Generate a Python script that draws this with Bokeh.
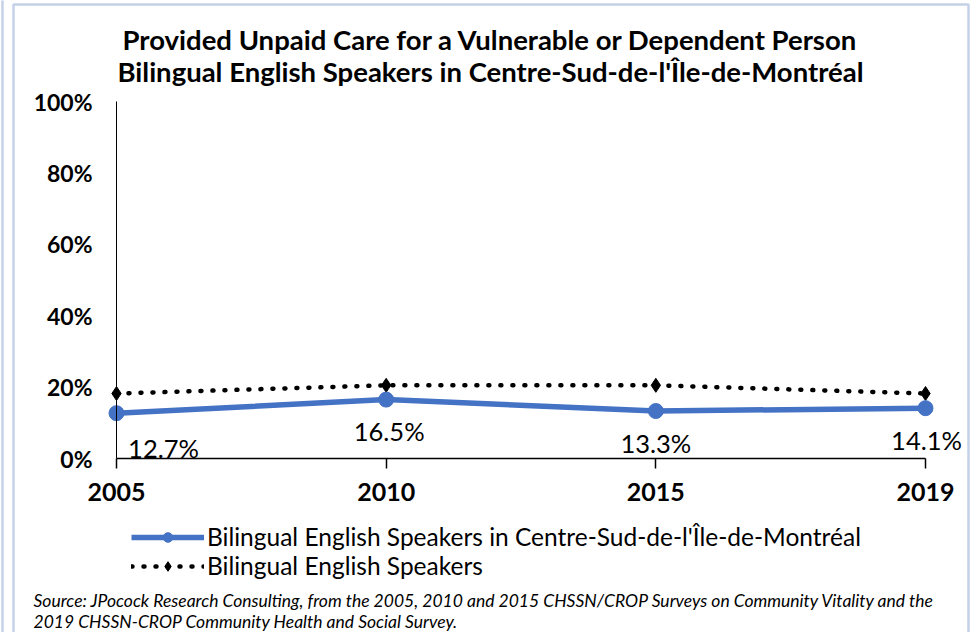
from bokeh.plotting import figure
from bokeh.models import (Range1d, Label, Legend, LegendItem, FixedTicker, LinearAxis,
                          BoxAnnotation)
from bokeh.embed import file_html
from bokeh.resources import INLINE

years = ["2005", "2010", "2015", "2019"]
montreal = [0.127, 0.165, 0.133, 0.141]
bilingual = [0.182, 0.205, 0.205, 0.182]
data_labels = ["12.7%", "16.5%", "13.3%", "14.1%"]
y_ticks = [0.0, 0.2, 0.4, 0.6, 0.8, 1.0]
y_tick_labels = ["0%", "20%", "40%", "60%", "80%", "100%"]
title_lines = ["Provided Unpaid Care for a Vulnerable or Dependent Person",
               "Bilingual English Speakers in Centre-Sud-de-l'Île-de-Montréal"]
series_names = ["Bilingual English Speakers in Centre-Sud-de-l'Île-de-Montréal",
                "Bilingual English Speakers"]
source_lines = ["Source: JPocock Research Consulting, from the 2005, 2010  and 2015  CHSSN/CROP Surveys on Community Vitality and the",
                "2019  CHSSN-CROP Community Health and Social Survey."]

xs = list(range(len(years)))
FONT = "Lato"
W, H = 972, 632
# plot-area pixel box inside the canvas
PL, PR, PT, PB = 116, 925, 101, 458
xpp = (PR - PL) / (len(xs) - 1)
ypp = (PB - PT) / 1.0
x_range = Range1d(-PL / xpp, (len(xs) - 1) + (W - PR) / xpp)
y_range = Range1d(-(H - PB) / ypp, 1.0 + PT / ypp)

p = figure(width=W, height=H, output_backend="svg", toolbar_location=None,
           x_range=x_range, y_range=y_range,
           x_axis_location=None, y_axis_location=None,
           min_border=0, min_border_left=0, min_border_right=0,
           min_border_top=0, min_border_bottom=0)
p.xgrid.visible = False
p.ygrid.visible = False
p.outline_line_color = None
p.background_fill_color = "white"
p.border_fill_color = "white"

# axes drawn at fixed data locations
xaxis = LinearAxis(fixed_location=0, bounds=(0, len(xs) - 1),
                   ticker=FixedTicker(ticks=xs),
                   major_label_overrides={i: y for i, y in enumerate(years)})
xaxis.minor_tick_line_color = None
xaxis.major_tick_out = 10
xaxis.major_tick_in = 0
xaxis.axis_line_color = "black"
xaxis.axis_line_width = 1.5
xaxis.major_tick_line_color = "black"
xaxis.major_tick_line_width = 1.5
xaxis.major_label_text_font = FONT
xaxis.major_label_text_font_style = "bold"
xaxis.major_label_text_font_size = "25px"
xaxis.major_label_text_color = "black"
xaxis.major_label_standoff = 14
p.add_layout(xaxis, "below")

yaxis = LinearAxis(fixed_location=0, bounds=(0, 1),
                   ticker=FixedTicker(ticks=y_ticks),
                   major_label_overrides={t: l for t, l in zip(y_ticks, y_tick_labels)})
yaxis.minor_tick_line_color = None
yaxis.major_tick_line_color = None
yaxis.major_tick_out = 0
yaxis.major_tick_in = 0
yaxis.axis_line_color = "black"
yaxis.axis_line_width = 1
yaxis.major_label_text_font = FONT
yaxis.major_label_text_font_style = "bold"
yaxis.major_label_text_font_size = "23px"
yaxis.major_label_text_color = "black"
yaxis.major_label_standoff = 24
p.add_layout(yaxis, "left")

# series
r_dot_line = p.line(xs, bilingual, line_color="black", line_width=4.5,
                    line_dash="1 11", line_cap="round")
r_dot_pts = p.scatter(xs, bilingual, marker="diamond", size=14, fill_color="black",
                      line_color="black")
r_blue_line = p.line(xs, montreal, line_color="#4472C4", line_width=5.5,
                     line_join="round")
r_blue_pts = p.scatter(xs, montreal, marker="circle", size=15, fill_color="#4472C4",
                       line_color="#4472C4")

# data labels
label_dx = [47, 3, 0, 1]
label_dy = [-35, -31, -32, -32]
for i, t in enumerate(data_labels):
    p.add_layout(Label(x=xs[i], y=montreal[i], text=t, x_offset=label_dx[i],
                       y_offset=label_dy[i], text_align="center", text_baseline="middle",
                       text_font=FONT, text_font_size="25.5px", text_color="black"))

# title (screen units: from canvas bottom-left, y upward)
for t, cy in zip(title_lines, [39, 71]):
    p.add_layout(Label(x=490, y=H - cy, x_units="screen", y_units="screen", text=t,
                       text_align="center", text_baseline="middle",
                       text_font=FONT, text_font_style="bold",
                       text_font_size="27.5px", text_color="black"))

# source
for t, cy in zip(source_lines, [600, 621]):
    p.add_layout(Label(x=33, y=H - cy, x_units="screen", y_units="screen", text=t,
                       text_align="left", text_baseline="middle",
                       text_font=FONT, text_font_style="italic",
                       text_font_size="17.5px", text_color="black"))

# legend
legend = Legend(items=[LegendItem(label=series_names[0], renderers=[r_blue_line, r_blue_pts]),
                       LegendItem(label=series_names[1], renderers=[r_dot_line, r_dot_pts])],
                location=(131, H - 580), orientation="vertical",
                label_text_font=FONT, label_text_font_size="24.5px",
                label_text_color="black",
                glyph_width=73, glyph_height=24, label_standoff=3, spacing=0,
                padding=0, margin=0, border_line_color=None, background_fill_alpha=0)
p.add_layout(legend, "center")

# outer frames
p.add_layout(BoxAnnotation(left=13, right=968, top=H - 4, bottom=-10,
                           left_units="screen", right_units="screen",
                           top_units="screen", bottom_units="screen",
                           fill_alpha=0, line_color="#3F66AE", line_width=2.5))
p.add_layout(BoxAnnotation(left=-20, right=2, top=H + 10, bottom=-10,
                           left_units="screen", right_units="screen",
                           top_units="screen", bottom_units="screen",
                           fill_alpha=0, line_color="#3F66AE", line_width=2.5))

open("out.html", "w").write(file_html(p, INLINE))
